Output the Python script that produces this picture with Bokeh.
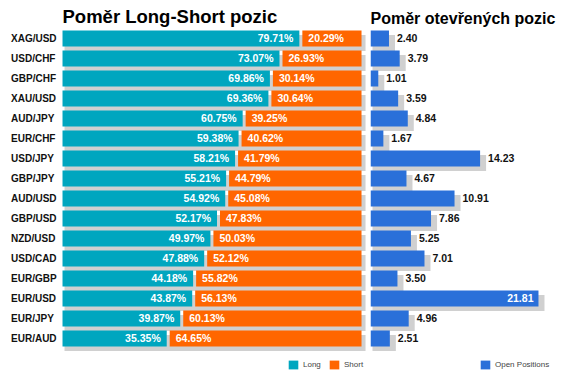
from bokeh.plotting import figure
from bokeh.models import ColumnDataSource, Range1d, Legend, LegendItem
from bokeh.layouts import row
from bokeh.core.properties import value
from bokeh.embed import file_html
from bokeh.resources import INLINE

pairs = ["XAG/USD", "USD/CHF", "GBP/CHF", "XAU/USD", "AUD/JPY", "EUR/CHF", "USD/JPY", "GBP/JPY",
         "AUD/USD", "GBP/USD", "NZD/USD", "USD/CAD", "EUR/GBP", "EUR/USD", "EUR/JPY", "EUR/AUD"]
long_pct = [79.71, 73.07, 69.86, 69.36, 60.75, 59.38, 58.21, 55.21,
            54.92, 52.17, 49.97, 47.88, 44.18, 43.87, 39.87, 35.35]
short_pct = [20.29, 26.93, 30.14, 30.64, 39.25, 40.62, 41.79, 44.79,
             45.08, 47.83, 50.03, 52.12, 55.82, 56.13, 60.13, 64.65]
open_pos = [2.40, 3.79, 1.01, 3.59, 4.84, 1.67, 14.23, 4.67,
            10.91, 7.86, 5.25, 7.01, 3.50, 21.81, 4.96, 2.51]

TEAL = "#00A6BF"
ORANGE = "#FF6600"
BLUE = "#2A70D9"
SHADOW = "#D0D0D0"
FONT = "Liberation Sans"

n = len(pairs)
ys = list(range(n))
GAP = 0.5          # half gap between long and short (data units)
SH_Y = 0.225       # shadow vertical offset (rows)

src = ColumnDataSource(dict(
    y=ys,
    ys=[y + SH_Y for y in ys],
    pair=pairs,
    long_r=[v - GAP for v in long_pct],
    short_l=[v + GAP for v in long_pct],
    short_r=[v + s for v, s in zip(long_pct, short_pct)],
    long_txt=[f"{v:.2f}%" for v in long_pct],
    short_txt=[f"{v:.2f}%" for v in short_pct],
    sh_l=[0.67] * n,
    sh_r=[v + s + 1.34 for v, s in zip(long_pct, short_pct)],
    zero=[0] * n,
))

top_border = 28
H = 372
y_top = -0.495
y_bot = y_top + (H - top_border) / 20.0


def base_fig(width, xr, left_border, title, title_offset, title_size, standoff):
    p = figure(width=width, height=H, x_range=xr, y_range=Range1d(y_bot, y_top),
               output_backend="svg", toolbar_location=None, title=title,
               min_border_left=left_border, min_border_right=0,
               min_border_top=top_border, min_border_bottom=0)
    p.axis.visible = False
    p.grid.visible = False
    p.outline_line_color = None
    p.background_fill_color = "white"
    p.border_fill_color = "white"
    p.title.text_font = FONT
    p.title.text_font_style = "bold"
    p.title.text_font_size = title_size
    p.title.text_color = "#000000"
    p.title.align = "left"
    p.title.offset = title_offset
    p.title.standoff = standoff
    return p


# ---------- left panel ----------
p1 = base_fig(367, Range1d(-20.74, 102.0), 0, "Poměr Long-Short pozic", 62, "18.5px", 3)
p1.hbar(y="ys", left="sh_l", right="sh_r", height=0.8, source=src,
        fill_color=SHADOW, line_color=None)
r_long = p1.hbar(y="y", left="zero", right="long_r", height=0.8, source=src,
                 fill_color=TEAL, line_color=None)
r_short = p1.hbar(y="y", left="short_l", right="short_r", height=0.8, source=src,
                  fill_color=ORANGE, line_color=None)
p1.text(x="long_r", y="y", text="long_txt", source=src, x_offset=-6,
        text_align="right", text_baseline="middle", text_color="white",
        text_font=value(FONT), text_font_style="bold", text_font_size="10.5px")
p1.text(x="short_l", y="y", text="short_txt", source=src, x_offset=6,
        text_align="left", text_baseline="middle", text_color="white",
        text_font=value(FONT), text_font_style="bold", text_font_size="10.5px")
p1.text(x="zero", y="y", text="pair", source=src, x_offset=-51.5,
        text_align="left", text_baseline="middle", text_color="#111111",
        text_font=value(FONT), text_font_style="bold", text_font_size="10px")

leg1 = Legend(items=[LegendItem(label="Long", renderers=[r_long]),
                     LegendItem(label="Short", renderers=[r_short])],
              orientation="horizontal", location=(287, 2),
              glyph_width=12, glyph_height=11, label_height=11, label_width=20,
              label_standoff=4, spacing=5, padding=0, margin=0,
              border_line_color=None, background_fill_alpha=0,
              label_text_font=FONT, label_text_font_size="8px", label_text_color="#444444")
p1.add_layout(leg1, "center")

# ---------- right panel ----------
XMAX = 25.06
inside = [v > 0.8 * XMAX for v in open_pos]
src2 = ColumnDataSource(dict(
    y=ys,
    ys=[y + SH_Y for y in ys],
    v=open_pos,
    zero=[0] * n,
    sh_l=[0.26] * n,
    sh_r=[v + 0.78 for v in open_pos],
    out_txt=["" if i else f"{v:.2f}" for v, i in zip(open_pos, inside)],
    in_txt=[f"{v:.2f}" if i else "" for v, i in zip(open_pos, inside)],
))

p2 = base_fig(196, Range1d(0, XMAX), 3, "Poměr otevřených pozic", 0, "16px", 4)
p2.hbar(y="ys", left="sh_l", right="sh_r", height=0.8, source=src2,
        fill_color=SHADOW, line_color=None)
r_open = p2.hbar(y="y", left="zero", right="v", height=0.8, source=src2,
                 fill_color=BLUE, line_color=None)
p2.text(x="v", y="y", text="out_txt", source=src2, x_offset=8,
        text_align="left", text_baseline="middle", text_color="#111111",
        text_font=value(FONT), text_font_style="bold", text_font_size="10.5px")
p2.text(x="v", y="y", text="in_txt", source=src2, x_offset=-5,
        text_align="right", text_baseline="middle", text_color="white",
        text_font=value(FONT), text_font_style="bold", text_font_size="10.5px")

leg2 = Legend(items=[LegendItem(label="Open Positions", renderers=[r_open])],
              orientation="horizontal", location=(109, 2),
              glyph_width=12, glyph_height=11, label_height=11, label_width=20,
              label_standoff=4, spacing=5, padding=0, margin=0,
              border_line_color=None, background_fill_alpha=0,
              label_text_font=FONT, label_text_font_size="8px", label_text_color="#444444")
p2.add_layout(leg2, "center")

layout = row(p1, p2, spacing=0)
open("out.html", "w").write(file_html(layout, INLINE))
